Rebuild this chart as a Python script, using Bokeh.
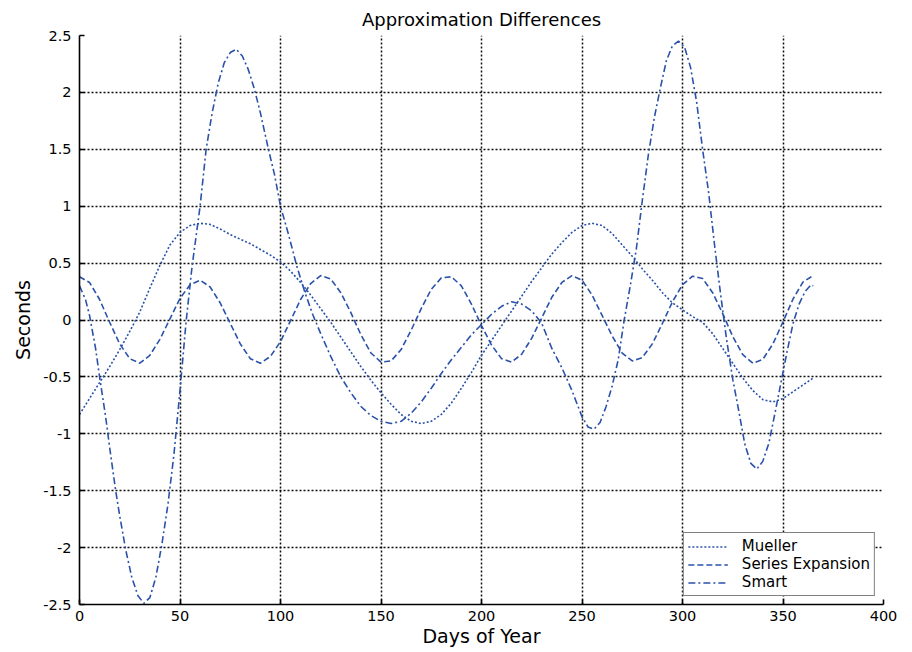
from bokeh.plotting import figure
from bokeh.models import FixedTicker, Legend, LegendItem, Range1d
from bokeh.embed import file_html
from bokeh.resources import INLINE

# ---- data ----
mueller_days = [0, 5, 10, 15, 20, 25, 30, 35, 40, 45, 50, 55, 60, 65, 70, 75, 80, 85, 90, 95,
                100, 105, 110, 115, 120, 125, 130, 135, 140, 145, 150, 155, 160, 165, 170, 175,
                180, 185, 190, 195, 200, 205, 210, 215, 220, 225, 230, 235, 240, 245, 250, 255,
                260, 265, 270, 275, 280, 285, 290, 295, 300, 305, 310, 315, 320, 325, 330, 335,
                340, 345, 350, 355, 360, 365]
mueller = [-0.83, -0.69, -0.55, -0.41, -0.26, -0.10, 0.07, 0.28, 0.48, 0.66, 0.77, 0.83, 0.85,
           0.84, 0.80, 0.75, 0.71, 0.67, 0.62, 0.57, 0.51, 0.43, 0.33, 0.22, 0.10, -0.02, -0.15,
           -0.28, -0.41, -0.53, -0.64, -0.74, -0.83, -0.89, -0.91, -0.89, -0.83, -0.73, -0.60,
           -0.46, -0.31, -0.18, -0.05, 0.08, 0.21, 0.34, 0.46, 0.58, 0.68, 0.77, 0.83, 0.85,
           0.83, 0.76, 0.66, 0.56, 0.45, 0.35, 0.24, 0.15, 0.09, 0.03, -0.02, -0.12, -0.25,
           -0.38, -0.51, -0.62, -0.70, -0.72, -0.69, -0.63, -0.57, -0.51]

series_days = mueller_days
series = [0.38, 0.33, 0.18, -0.02, -0.21, -0.34, -0.38, -0.31, -0.17, 0.01, 0.19, 0.31, 0.35,
          0.29, 0.15, -0.03, -0.21, -0.34, -0.38, -0.32, -0.19, -0.005, 0.18, 0.32, 0.39, 0.36,
          0.24, 0.065, -0.13, -0.29, -0.37, -0.36, -0.26, -0.09, 0.10, 0.27, 0.37, 0.38, 0.30,
          0.14, -0.05, -0.22, -0.34, -0.37, -0.30, -0.16, 0.02, 0.20, 0.33, 0.39, 0.35, 0.22,
          0.04, -0.14, -0.29, -0.36, -0.33, -0.21, -0.03, 0.16, 0.31, 0.385, 0.365, 0.24, 0.056,
          -0.145, -0.305, -0.38, -0.345, -0.21, -0.016, 0.185, 0.335, 0.39]

smart_days = [0, 3, 5, 8, 10, 13, 15, 18, 20, 23, 26, 29, 32, 35, 38, 41, 44, 47, 50, 53, 56,
              60, 63, 66, 69, 72, 75, 78, 81, 84, 87, 90, 94, 97, 100, 104, 108, 112, 116, 120,
              125, 130, 135, 140, 145, 150, 155, 160, 165, 170, 175, 180, 185, 190, 195, 200,
              205, 210, 215, 220, 225, 230, 235, 240, 245, 250, 253, 256, 259, 262, 265, 268,
              271, 274, 277, 280, 283, 286, 289, 292, 295, 298, 301, 304, 307, 310, 313, 316,
              319, 322, 325, 328, 331, 334, 337, 340, 343, 346, 349, 352, 355, 358, 361, 364, 365]
smart = [0.30, 0.18, 0.04, -0.25, -0.50, -0.85, -1.12, -1.50, -1.72, -2.02, -2.26, -2.42, -2.49,
         -2.44, -2.26, -1.97, -1.62, -1.18, -0.62, -0.02, 0.47, 1.00, 1.50, 1.82, 2.08, 2.26,
         2.35, 2.38, 2.32, 2.20, 2.03, 1.82, 1.50, 1.28, 1.00, 0.75, 0.48, 0.25, 0.05, -0.12,
         -0.32, -0.50, -0.64, -0.76, -0.84, -0.89, -0.91, -0.89, -0.82, -0.72, -0.60, -0.47,
         -0.35, -0.24, -0.13, -0.04, 0.05, 0.12, 0.16, 0.14, 0.08, -0.03, -0.25, -0.42, -0.62,
         -0.85, -0.94, -0.96, -0.90, -0.76, -0.58, -0.35, 0.00, 0.30, 0.62, 1.05, 1.45, 1.78,
         2.04, 2.28, 2.41, 2.45, 2.40, 2.22, 1.92, 1.50, 1.12, 0.65, 0.22, -0.18, -0.52, -0.80,
         -1.09, -1.26, -1.31, -1.24, -1.08, -0.82, -0.55, -0.28, -0.03, 0.14, 0.25, 0.31, 0.30]

x_ticks = [0, 50, 100, 150, 200, 250, 300, 350, 400]
x_tick_labels = ["0", "50", "100", "150", "200", "250", "300", "350", "400"]
y_ticks = [-2.5, -2, -1.5, -1, -0.5, 0, 0.5, 1, 1.5, 2, 2.5]
y_tick_labels = ["-2.5", "-2", "-1.5", "-1", "-0.5", "0", "0.5", "1", "1.5", "2", "2.5"]

series_names = ["Mueller", "Series Expansion", "Smart"]

FONT = "DejaVu Sans"
BLUE = "#2a52aa"

p = figure(width=912, height=652, output_backend="svg", toolbar_location=None,
           x_range=Range1d(0, 400), y_range=Range1d(-2.5, 2.5),
           min_border_left=79, min_border_right=29, min_border_top=35, min_border_bottom=48)
p.background_fill_color = "white"
p.border_fill_color = "white"
p.outline_line_color = None

p.title.text = "Approximation Differences"
p.title.align = "center"
p.title.text_font = FONT
p.title.text_font_size = "18px"
p.title.text_font_style = "normal"
p.title.text_color = "black"
p.title.standoff = 12

for ax, ticks, labels in ((p.xaxis[0], x_ticks, x_tick_labels), (p.yaxis[0], y_ticks, y_tick_labels)):
    ax.ticker = FixedTicker(ticks=ticks)
    ax.major_label_overrides = {t: l for t, l in zip(ticks, labels)}
    ax.axis_line_color = "black"
    ax.axis_line_width = 1.6
    ax.major_tick_line_color = "black"
    ax.major_tick_line_width = 1.6
    ax.major_tick_in = 5
    ax.major_tick_out = 0
    ax.minor_tick_line_color = None
    ax.major_label_text_font = FONT
    ax.major_label_text_font_size = "14.5px"
    ax.major_label_text_color = "black"
    ax.axis_label_text_font = FONT
    ax.axis_label_text_font_size = "19px"
    ax.axis_label_text_font_style = "normal"
    ax.axis_label_text_color = "black"

p.xaxis.axis_label = "Days of Year"
p.yaxis.axis_label = "Seconds"
p.xaxis.major_label_standoff = 6
p.xaxis.axis_label_standoff = 1
p.yaxis.major_label_standoff = 8
p.yaxis.axis_label_standoff = 6

for g in (p.xgrid[0], p.ygrid[0]):
    g.grid_line_color = "black"
    g.grid_line_dash = "2 2"
    g.grid_line_width = 1.5
    g.grid_line_alpha = 0.95

r1 = p.line(mueller_days, mueller, line_color=BLUE, line_width=1.6, line_dash="2 2")
r2 = p.line(series_days, series, line_color=BLUE, line_width=1.6, line_dash="6 3")
r3 = p.line(smart_days, smart, line_color=BLUE, line_width=1.6, line_dash="7 3 2 3")

legend = Legend(items=[LegendItem(label=series_names[0], renderers=[r1]),
                       LegendItem(label=series_names[1], renderers=[r2]),
                       LegendItem(label=series_names[2], renderers=[r3])],
                location="bottom_right")
legend.margin = 8
legend.padding = 4
legend.spacing = 0
legend.glyph_width = 40
legend.glyph_height = 15
legend.label_height = 15
legend.label_standoff = 14
legend.label_text_font = FONT
legend.label_text_font_size = "15px"
legend.label_text_color = "black"
legend.border_line_color = "black"
legend.border_line_width = 1.6
legend.background_fill_color = "white"
legend.background_fill_alpha = 1.0
p.add_layout(legend, "center")

open("out.html", "w").write(file_html(p, INLINE))
